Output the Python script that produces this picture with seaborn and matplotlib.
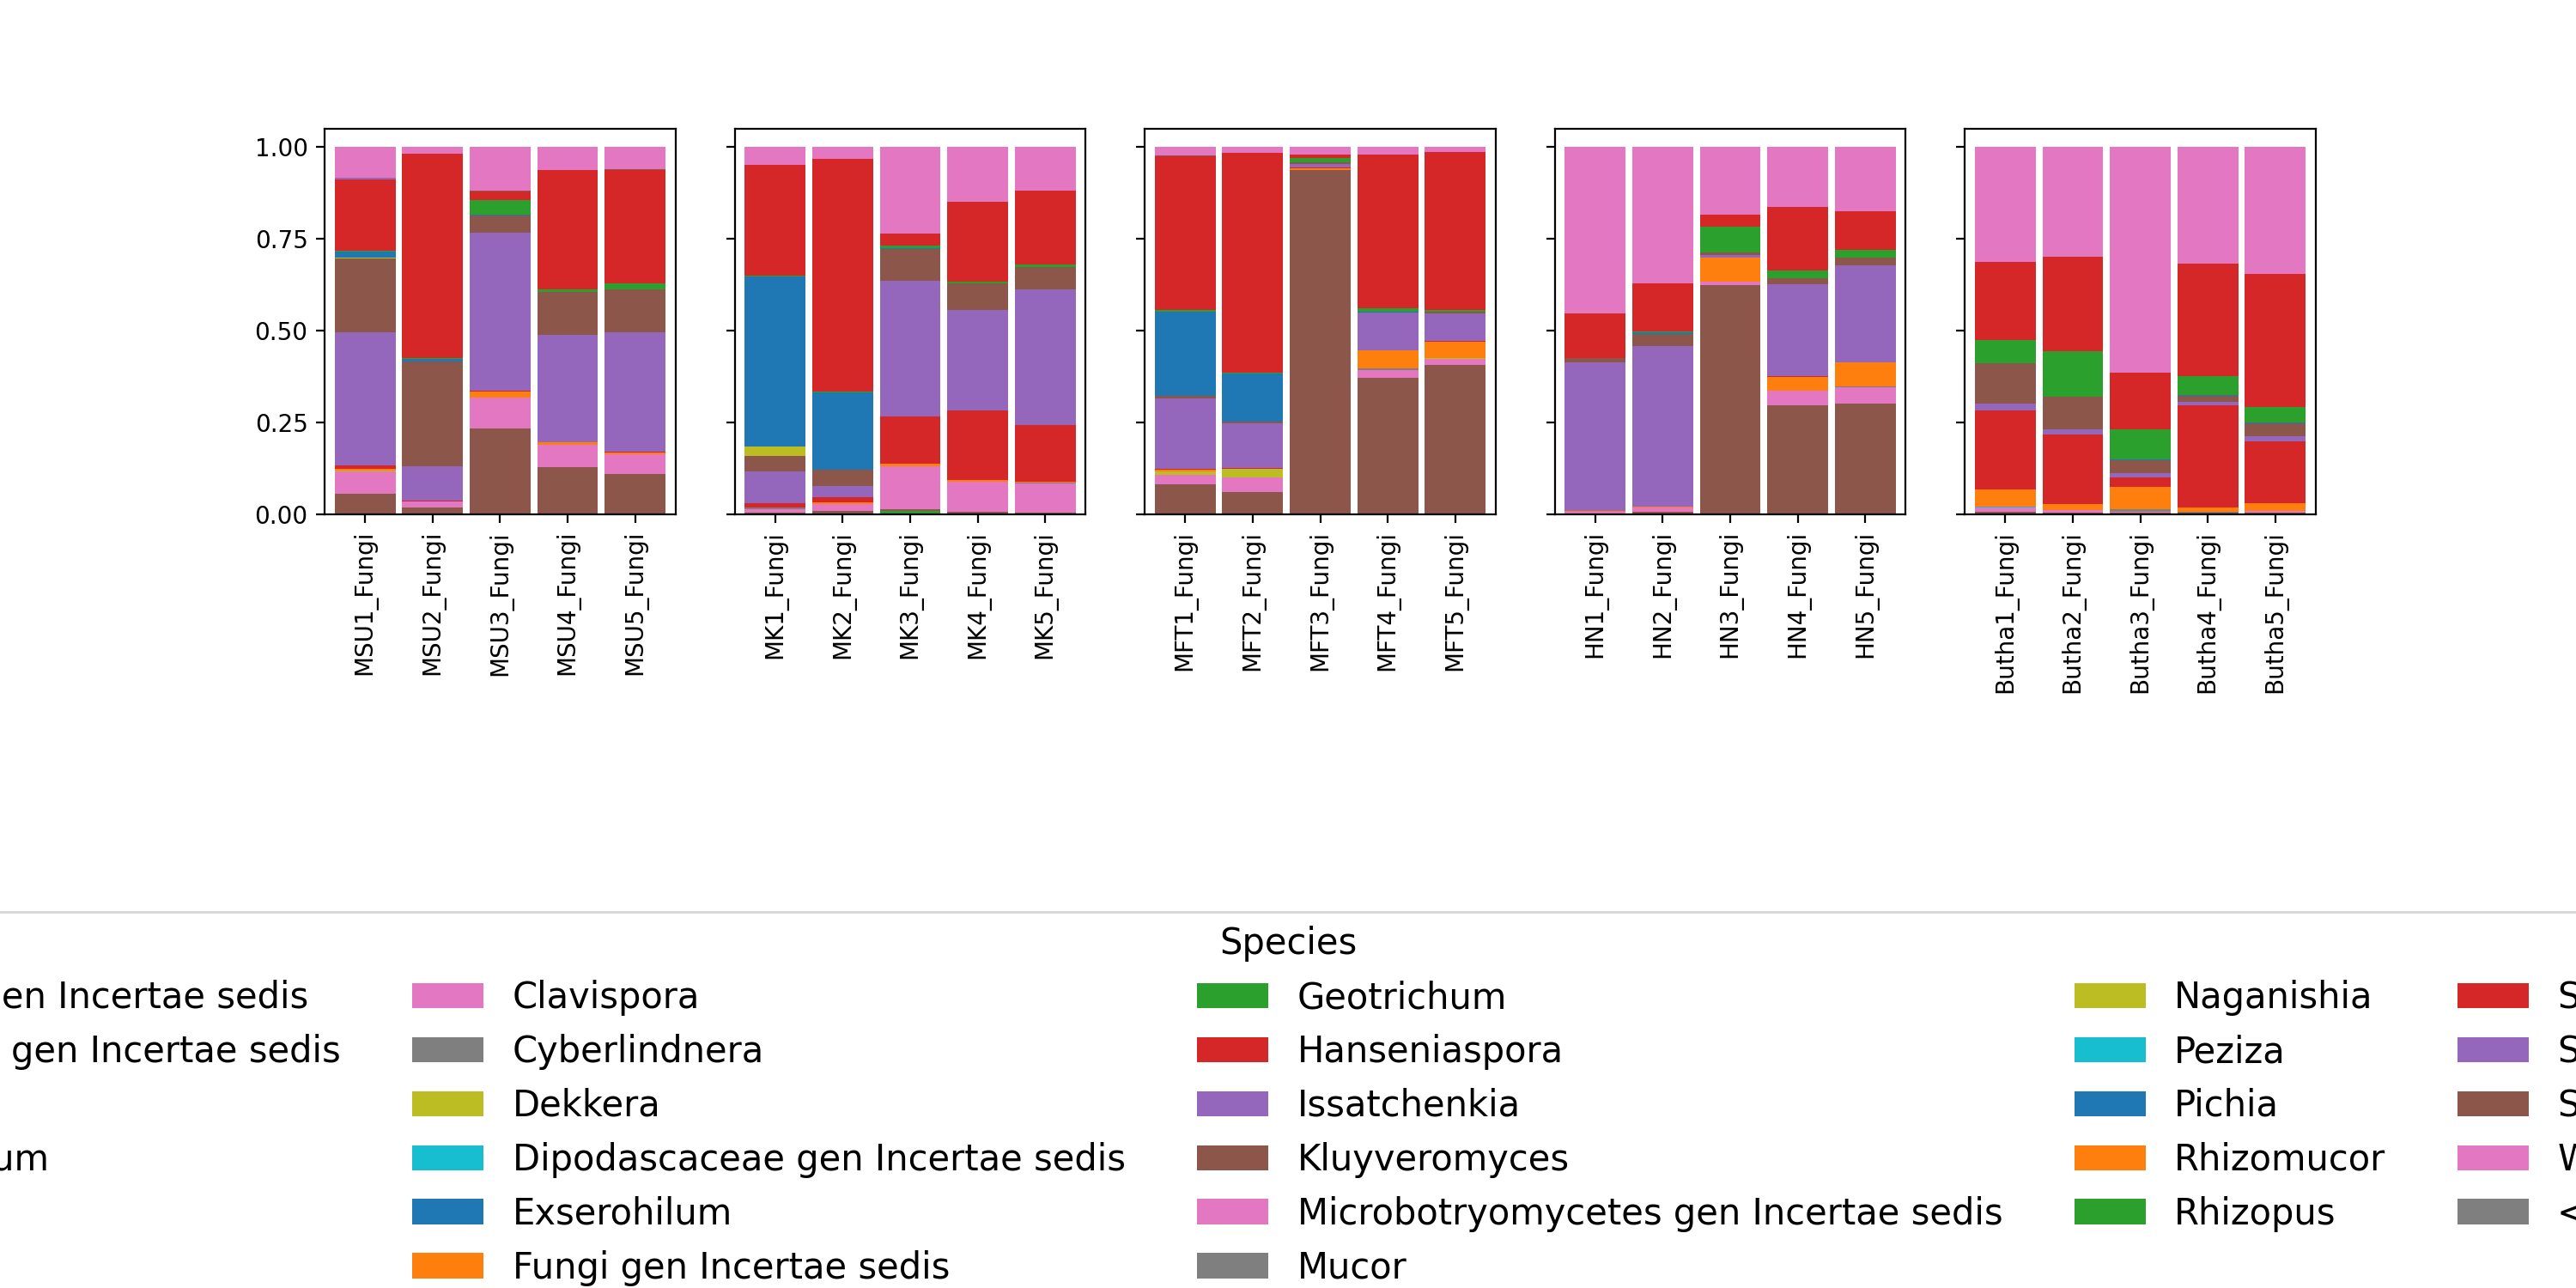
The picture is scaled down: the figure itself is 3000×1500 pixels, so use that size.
import numpy as np
import matplotlib
matplotlib.use("Agg")
import matplotlib.pyplot as plt
import seaborn as sns

sites = ["MSU", "MK", "MFT", "HN", "Butha"]
samples = [f"{s}{i}_Fungi" for s in sites for i in range(1, 6)]

species = [
	"Agaricales gen Incertae sedis", "Ascomycota gen Incertae sedis", "Aspergillus",
	"Aureobasidium", "Botrytis", "Candida", "Clavispora", "Cyberlindnera", "Dekkera",
	"Dipodascaceae gen Incertae sedis", "Exserohilum", "Fungi gen Incertae sedis",
	"Geotrichum", "Hanseniaspora", "Issatchenkia", "Kluyveromyces",
	"Microbotryomycetes gen Incertae sedis", "Mucor", "Naganishia", "Peziza", "Pichia",
	"Rhizomucor", "Rhizopus", "Saccharomyces", "Saturnispora", "Starmerella",
	"Wickerhamomyces", "<1% abundance",
]

# relative abundances per sample (order of samples list)
aspergillus = [0, 0, 0, 0, 0, 0, 0, .008, 0, 0, 0, 0, 0, 0, 0, 0, 0, 0, 0, 0, 0, 0, 0, 0, 0]
candida = [.054, .017, .234, .127, .108, .004, .008, .004, .005, .003, .080, .059, .937, .370, .407,
	.002, .005, .624, .297, .302, .005, .003, .003, .003, .003]
clavispora = [.063, .016, .083, .061, .054, .010, .019, .118, .083, .080, .027, .040, 0, .021, .016,
	.003, .012, .009, .040, .044, .012, .007, .002, 0, .005]
cyberlindnera = [0, 0, 0, 0, 0, .003, 0, 0, 0, .002, 0, 0, 0, .005, 0,
	0, 0, 0, 0, .002, 0, 0, .007, .002, 0]
dekkera = [.002, 0, 0, 0, 0, 0, 0, 0, 0, 0, .008, .023, 0, 0, .003,
	0, 0, 0, 0, 0, 0, 0, 0, 0, 0]
dipodascaceae = [0] * 20 + [.002, 0, 0, 0, 0]
fungi_is = [.005, .002, .016, .007, .005, 0, .005, .007, .004, .002, .005, .002, .005, .049, .044,
	.003, .002, .065, .037, .065, .047, .016, .061, .012, .021]
hanseniaspora = [.009, .002, .003, 0, .002, .013, .014, .128, .189, .156, .002, .002, .003, 0, .002,
	0, 0, .002, .002, 0, .215, .191, .026, .280, .168]
issatchenkia = [.362, .093, .431, .294, .325, .086, .030, .371, .275, .369, .194, .121, .010, .105, .075,
	.405, .439, .005, .250, .264, .019, .014, .012, .009, .016]
kluyveromyces = [.201, .286, .047, .117, .118, .042, .045, .086, .073, .060, .007, .005, .004, 0, .005,
	.012, .033, .009, .016, .021, .112, .089, .035, .016, .035]
naganishia = [.002, 0, 0, 0, 0, .026, 0, 0, 0, 0, 0, 0, 0, 0, 0,
	0, 0, 0, 0, 0, 0, 0, 0, 0, 0]
pichia = [.018, .006, .003, 0, 0, .463, .210, .003, 0, 0, .229, .131, 0, .002, 0,
	0, .005, 0, 0, 0, 0, 0, .002, .002, .002]
rhizopus = [.002, .002, .039, .007, .016, .002, .002, .006, .005, .009, .003, .002, .011, .009, .005,
	0, .002, .068, .021, .021, .063, .124, .082, .051, .042]
saccharomyces = [.193, .557, .023, .325, .310, .303, .634, .033, .218, .200, .420, .600, .009, .418, .430,
	.121, .131, .033, .173, .107, .212, .257, .154, .308, .362]
saturnispora = [.005, 0, 0, 0, 0, 0, 0, 0, 0, 0, 0, 0, 0, 0, 0,
	0, 0, 0, 0, 0, 0, 0, 0, 0, 0]
starmerella = [0, 0, .002, 0, .002, 0, 0, 0, 0, 0, .002, 0, 0, 0, 0,
	0, 0, .002, 0, 0, 0, 0, 0, 0, 0]

values = {name: np.zeros(len(samples)) for name in species}
values["Aspergillus"] = np.array(aspergillus)
values["Candida"] = np.array(candida)
values["Clavispora"] = np.array(clavispora)
values["Cyberlindnera"] = np.array(cyberlindnera)
values["Dekkera"] = np.array(dekkera)
values["Dipodascaceae gen Incertae sedis"] = np.array(dipodascaceae)
values["Fungi gen Incertae sedis"] = np.array(fungi_is)
values["Hanseniaspora"] = np.array(hanseniaspora)
values["Issatchenkia"] = np.array(issatchenkia)
values["Kluyveromyces"] = np.array(kluyveromyces)
values["Naganishia"] = np.array(naganishia)
values["Pichia"] = np.array(pichia)
values["Rhizopus"] = np.array(rhizopus)
values["Saccharomyces"] = np.array(saccharomyces)
values["Saturnispora"] = np.array(saturnispora)
values["Starmerella"] = np.array(starmerella)
# Wickerhamomyces fills the rest up to 1
rest = 1 - sum(values[n] for n in species if n != "Wickerhamomyces")
values["Wickerhamomyces"] = np.clip(rest, 0, None)

palette = sns.color_palette("tab10")
fig, axes = plt.subplots(1, 5, figsize=(15, 7.5), dpi=200, sharey=True)
plt.subplots_adjust(left=0.126, right=0.899, top=0.9, bottom=0.601, wspace=0.168)

handles = []
for k, ax in enumerate(axes):
	idx = slice(k * 5, k * 5 + 5)
	names = samples[idx]
	x = np.arange(5)
	bottom = np.zeros(5)
	for i, sp in enumerate(species):
		v = values[sp][idx]
		b = ax.bar(x, v, bottom=bottom, width=0.9, color=palette[i % 10], label=sp)
		bottom += v
		if k == 0:
			handles.append(b)
	ax.set_xticks(x)
	ax.set_xticklabels(names, rotation=90)
	ax.set_xlim(-0.6, 4.6)
	ax.set_ylim(0, 1.05)
axes[0].set_yticks([0, 0.25, 0.5, 0.75, 1.0])
axes[0].set_yticklabels(["0.00", "0.25", "0.50", "0.75", "1.00"])

fig.legend(handles, species, title="Species", ncol=5, loc="upper center",
	bbox_to_anchor=(0.5, 0.306), fontsize=15, title_fontsize=15)
fig.savefig("out.png")
